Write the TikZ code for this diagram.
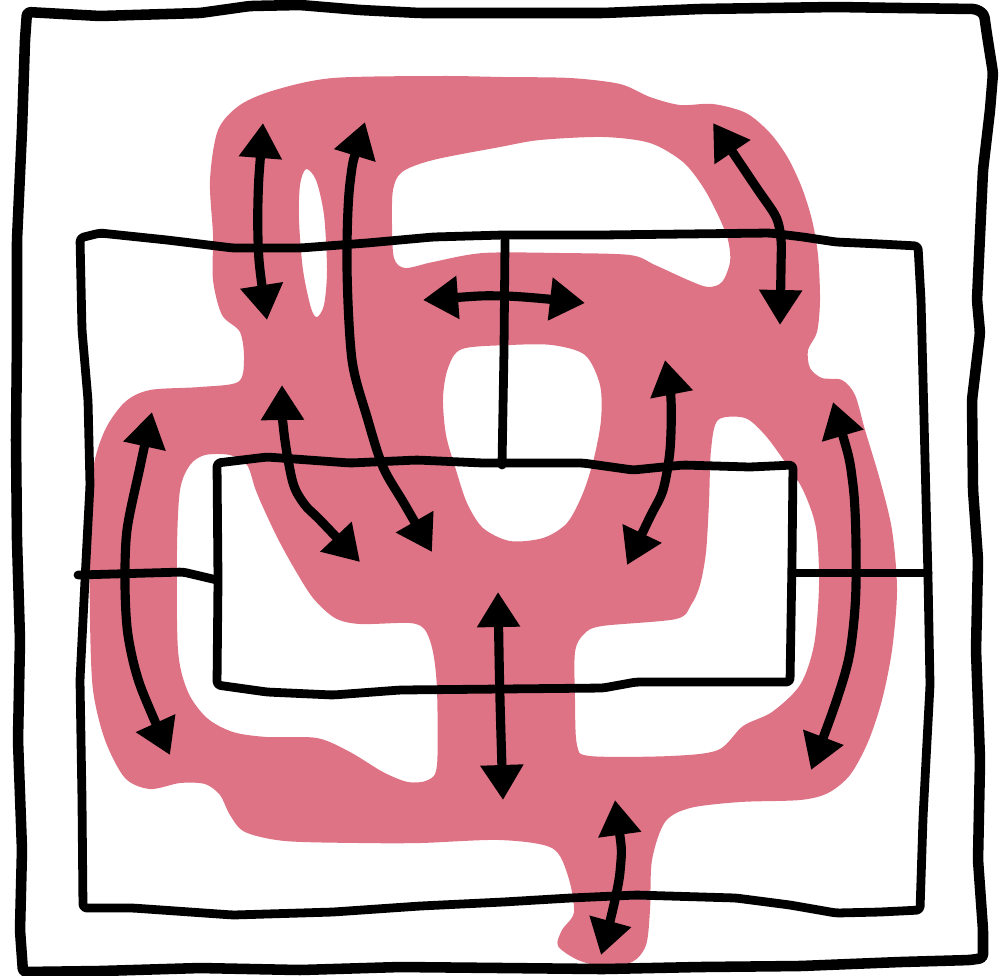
\documentclass[tikz,border=0pt]{standalone}
\usepackage{tikz}
\usetikzlibrary{arrows.meta}
\definecolor{rosaFlujo}{HTML}{DD7385}

\begin{document}
\begin{tikzpicture}[x=0.01cm,y=-0.01cm,
    borde/.style={line width=3pt,line cap=round,line join=round,rounded corners=1pt},
    trazo/.style={line width=2.5pt,line cap=round,line join=round,rounded corners=1pt},
    flecha/.style={line width=2.6pt,{Triangle[length=3.5mm,width=4.1mm]}-{Triangle[length=3.5mm,width=4.1mm]}}]
  \useasboundingbox (0,0) rectangle (1007,975);
  \fill[rosaFlujo,even odd rule]
    plot[smooth cycle,tension=0.5] coordinates {(333,78) (440,76) (503,77) (570,78) (620,84) (650,97) (680,105) (713,104) (746,113) (770,133) (788,158) (802,188) (812,220) (818,255) (820,300) (817,332) (808,350) (810,368) (822,378) (842,380) (855,395) (865,430) (880,480) (892,530) (897,590) (892,650) (882,700) (868,742) (850,775) (828,793) (800,800) (740,802) (690,808) (665,822) (652,860) (650,910) (646,945) (632,962) (603,966) (578,960) (558,946) (562,930) (574,912) (568,876) (552,848) (500,840) (420,843) (360,843) (285,841) (245,832) (230,815) (220,795) (205,784) (180,783) (150,789) (125,778) (105,740) (93,690) (90,620) (90,540) (93,470) (105,430) (125,402) (150,390) (200,387) (238,382) (244,360) (240,332) (222,315) (213,280) (213,235) (210,180) (218,130) (240,105) (275,90)}
    plot[smooth cycle,tension=0.5] coordinates {(306,169) (316,180) (324,215) (327,270) (324,305) (317,317) (311,308) (303,270) (299,220) (300,185)}
    plot[smooth cycle,tension=0.5] coordinates {(393,190) (402,172) (433,160) (500,147) (540,140) (603,137) (650,143) (683,162) (703,187) (718,215) (728,240) (730,262) (722,282) (708,287) (688,280) (655,265) (630,255) (560,253) (483,253) (433,262) (405,268) (394,258) (392,225)}
    plot[smooth cycle,tension=0.5] coordinates {(462,349) (510,345) (552,345) (585,355) (600,385) (601,420) (594,458) (583,493) (567,523) (543,538) (510,541) (483,528) (467,503) (456,470) (446,435) (443,398) (448,368)}
    plot[smooth cycle,tension=0.5] coordinates {(190,465) (205,455) (230,455) (247,465) (255,488) (262,505) (277,537) (294,568) (313,598) (335,618) (360,624) (410,623) (425,630) (433,652) (437,690) (437,765) (428,780) (408,782) (383,772) (350,752) (317,738) (267,737) (233,732) (207,718) (188,692) (178,650) (177,550) (180,490)}
    plot[smooth cycle,tension=0.5] coordinates {(718,420) (745,418) (765,435) (785,462) (803,490) (816,528) (819,585) (814,645) (800,685) (772,712) (743,726) (718,750) (670,756) (590,756) (577,745) (575,700) (575,652) (584,634) (602,626) (676,619) (691,605) (700,585) (706,552) (709,502) (711,450)};

  \draw[borde] (27,12) -- (100,16) -- (200,13) -- (250,6) -- (300,5) -- (360,10) -- (420,13) -- (503,13) -- (603,13) -- (700,9) -- (836,7) -- (900,8) -- (976,9) -- (984,14) -- (987,35) -- (993,73) -- (990,110) -- (983,170) -- (977,300) -- (980,333) -- (972,400) -- (973,490) -- (978,560) -- (976,650) -- (980,760) -- (978,860) -- (983,930) -- (983,958) -- (970,960) -- (900,962) -- (800,966) -- (700,967) -- (603,969) -- (503,968) -- (400,967) -- (300,970) -- (200,968) -- (100,971) -- (23,972) -- (20,930) -- (22,850) -- (18,740) -- (20,640) -- (17,540) -- (16,440) -- (17,340) -- (17,240) -- (22,130) -- (25,40) -- cycle;
  \draw[trazo] (80,238) -- (100,233) -- (167,240) -- (233,248) -- (300,248) -- (367,243) -- (433,237) -- (503,235) -- (600,235) -- (770,233) -- (803,237) -- (836,242) -- (880,244) -- (918,246) -- (921,300) -- (924,420) -- (928,578) -- (930,685) -- (926,760) -- (923,818) -- (920,910) -- (880,912) -- (836,913) -- (790,905) -- (736,898) -- (636,895) -- (570,898) -- (503,902) -- (420,906) -- (333,912) -- (233,915) -- (133,908) -- (83,908) -- (82,800) -- (80,680) -- (85,580) -- (90,485) -- (88,400) -- (82,330) -- cycle;
  \draw[trazo] (505,240) -- (504,350) -- (502,465);
  \draw[trazo] (217,463) -- (267,457) -- (350,463) -- (417,460) -- (483,463) -- (583,463) -- (633,470) -- (683,465) -- (750,467) -- (793,465) -- (792,560) -- (790,682) -- (636,682) -- (603,688) -- (500,689) -- (400,690) -- (333,695) -- (267,692) -- (217,685) -- (218,580) -- cycle;
  \draw[trazo] (78,575) -- (183,572) -- (217,580);
  \draw[trazo] (792,573) -- (928,573);

  \draw[flecha] plot[smooth] coordinates {(263,123) (258,200) (259,260) (267,320)};
  \draw[flecha] plot[smooth] coordinates {(365,122) (350,183) (347,267) (352,360) (367,417) (383,467) (405,505) (432,552)};
  \draw[flecha] plot[smooth] coordinates {(282,385) (284,433) (293,483) (305,505) (320,520) (360,562)};
  \draw[flecha] plot[smooth] coordinates {(423,300) (505,296) (585,303)};
  \draw[flecha] plot[smooth] coordinates {(665,360) (671,400) (670,450) (663,490) (650,517) (627,565)};
  \draw[flecha] plot[smooth] coordinates {(713,123) (756,187) (776,217) (781,240) (781,267) (780,325)};
  \draw[flecha] plot[smooth] coordinates {(833,402) (853,485) (856,585) (850,652) (836,702) (811,770)};
  \draw[flecha] plot[smooth] coordinates {(152,412) (140,467) (127,530) (125,585) (128,635) (140,685) (170,755)};
  \draw[flecha] plot[smooth] coordinates {(498,592) (500,700) (503,800)};
  \draw[flecha] plot[smooth] coordinates {(615,800) (620,872) (601,955)};
\end{tikzpicture}
\end{document}
